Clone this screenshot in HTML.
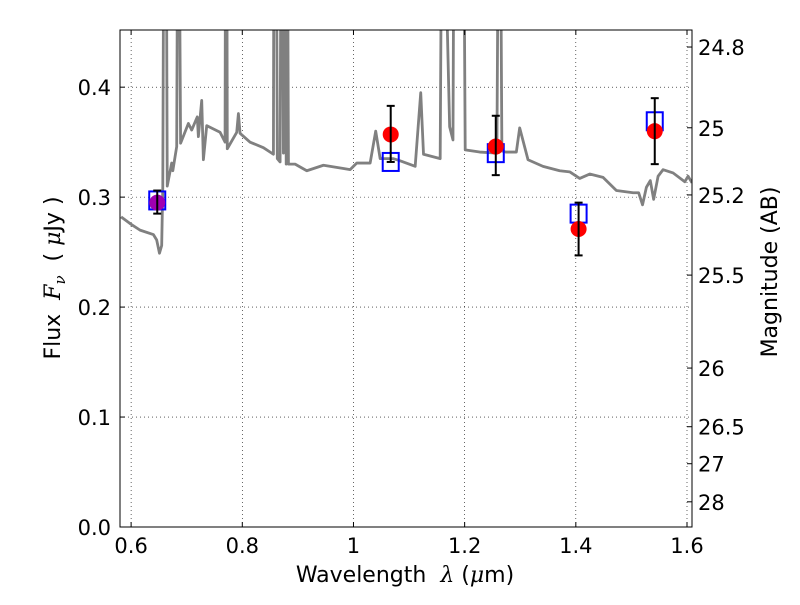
<!DOCTYPE html>
<html><head><meta charset="utf-8"><style>
body{margin:0;background:#fff}
svg text{font-family:"DejaVu Sans","Liberation Sans",sans-serif;fill:#000;white-space:pre}
</style></head><body>
<svg id="chart" width="800" height="600" xmlns="http://www.w3.org/2000/svg">
<defs><clipPath id="clip"><rect x="120" y="30" width="572" height="497"/></clipPath></defs>
<rect x="0" y="0" width="800" height="600" fill="#fff"/>
<g id="grid"></g>
<g id="spec" clip-path="url(#clip)"></g>
<g id="pts"></g>
<rect x="120" y="30" width="572" height="497" fill="none" stroke="#000" stroke-width="1"/>
<g id="axes"></g>
<text x="405" y="582" font-size="22" text-anchor="middle">Wavelength  <tspan font-family="DejaVu Serif" font-style="italic">λ</tspan> (<tspan font-family="DejaVu Serif" font-style="italic">μ</tspan>m)</text>
<text transform="translate(60,278) rotate(-90)" font-size="22" text-anchor="middle">Flux  <tspan font-family="DejaVu Serif" font-style="italic">F<tspan font-size="15" dy="5">ν</tspan></tspan><tspan dy="-5">  ( </tspan><tspan font-family="DejaVu Serif" font-style="italic">μ</tspan>Jy )</text>
<text transform="translate(777,272) rotate(-90)" font-size="22" text-anchor="middle">Magnitude (AB)</text>
</svg>
<script>
const specLam=[0.582,0.598,0.616,0.640,0.646,0.651,0.655,0.657,0.659,0.663,0.665,0.673,0.675,0.682,0.684,0.686,0.689,0.703,0.709,0.719,0.721,0.727,0.730,0.736,0.760,0.769,0.770,0.772,0.773,0.790,0.793,0.796,0.814,0.838,0.856,0.857,0.859,0.861,0.863,0.868,0.870,0.872,0.874,0.876,0.877,0.879,0.881,0.883,0.895,0.916,0.946,0.982,0.994,1.006,1.030,1.040,1.048,1.072,1.084,1.111,1.121,1.126,1.156,1.159,1.162,1.173,1.179,1.181,1.184,1.198,1.201,1.227,1.258,1.261,1.264,1.267,1.274,1.293,1.299,1.314,1.341,1.371,1.389,1.407,1.425,1.449,1.473,1.503,1.513,1.520,1.527,1.534,1.540,1.548,1.557,1.575,1.596,1.602,1.609];
const specFlux=[0.282,0.276,0.270,0.266,0.261,0.249,0.256,0.310,0.600,0.600,0.310,0.331,0.324,0.346,0.600,0.600,0.349,0.367,0.361,0.373,0.355,0.388,0.334,0.365,0.359,0.350,0.600,0.600,0.344,0.359,0.376,0.358,0.350,0.345,0.339,0.600,0.600,0.600,0.335,0.332,0.600,0.600,0.340,0.600,0.600,0.330,0.600,0.330,0.330,0.324,0.329,0.326,0.325,0.331,0.331,0.360,0.335,0.335,0.333,0.328,0.395,0.339,0.335,0.600,0.600,0.364,0.352,0.600,0.600,0.600,0.343,0.341,0.340,0.600,0.600,0.342,0.341,0.341,0.363,0.334,0.328,0.324,0.323,0.317,0.321,0.318,0.306,0.304,0.304,0.293,0.309,0.315,0.298,0.319,0.325,0.322,0.314,0.319,0.313];
const ptLam=[0.647,1.067,1.256,1.405,1.542];
const obsFlux=[0.295,0.357,0.346,0.271,0.360];
const errHi=[0.306,0.383,0.374,0.295,0.390];
const errLo=[0.285,0.332,0.320,0.247,0.330];
const modelFlux=[0.297,0.332,0.340,0.285,0.369];
const xTicks=[0.6,0.8,1.0,1.2,1.4,1.6];
const xTickLabels=["0.6","0.8","1","1.2","1.4","1.6"];
const yTicks=[0,0.1,0.2,0.3,0.4];
const yTickLabels=["0.0","0.1","0.2","0.3","0.4"];
const magTicks=[24.8,25,25.2,25.5,26,26.5,27,28];
const magLabels=["24.8","25","25.2","25.5","26","26.5","27","28"];

const X0=120,X1=692,Y0=527,Y1=30,XMIN=0.58,XMAX=1.609,YMIN=0,YMAX=0.452;
const xs=v=>X0+(v-XMIN)/(XMAX-XMIN)*(X1-X0);
const ys=v=>Y0-(v-YMIN)/(YMAX-YMIN)*(Y0-Y1);
const NS="http://www.w3.org/2000/svg";
function mk(p,t,a){const e=document.createElementNS(NS,t);for(const k in a)e.setAttribute(k,a[k]);p.appendChild(e);return e;}
const grid=document.getElementById('grid'),axes=document.getElementById('axes');
xTicks.forEach((t,i)=>{const x=xs(t);
 const g=mk(grid,'line',{x1:x,x2:x,y1:Y1,y2:Y0,stroke:'#000','stroke-width':0.6,'stroke-dasharray':'1,3'});
 
 mk(axes,'line',{x1:x,x2:x,y1:Y0,y2:Y0-5,stroke:'#000'});mk(axes,'line',{x1:x,x2:x,y1:Y1,y2:Y1+5,stroke:'#000'});
 const l=mk(axes,'text',{x:x,y:Y0+26,'font-size':21,'text-anchor':'middle'});l.textContent=xTickLabels[i];
 });
yTicks.forEach((t,i)=>{const y=ys(t);
 const g=mk(grid,'line',{x1:X0,x2:X1,y1:y,y2:y,stroke:'#000','stroke-width':0.6,'stroke-dasharray':'1,3'});
 
 mk(axes,'line',{x1:X0,x2:X0+5,y1:y,y2:y,stroke:'#000'});
 const l=mk(axes,'text',{x:X0-9,y:y+8,'font-size':21,'text-anchor':'end'});l.textContent=yTickLabels[i];
 });
magTicks.forEach((m,i)=>{const f=Math.pow(10,-(m-23.9)/2.5);const y=ys(f);
 mk(axes,'line',{x1:X1,x2:X1-5,y1:y,y2:y,stroke:'#000'});
 const l=mk(axes,'text',{x:X1+6,y:y+8,'font-size':21});l.textContent=magLabels[i];
 });
const spec=document.getElementById('spec');
const pl=mk(spec,'polyline',{points:specLam.map((l,i)=>xs(l)+','+ys(specFlux[i])).join(' '),fill:'none',stroke:'#808080','stroke-width':2.8,'stroke-linejoin':'round'});

const pts=document.getElementById('pts');
ptLam.forEach((l,i)=>{const x=xs(l);
 const sq=mk(pts,'rect',{x:x-8,y:ys(modelFlux[i])-9,width:16,height:18,fill:'none',stroke:'#0000ff','stroke-width':2});
 
 const c=mk(pts,'circle',{cx:x,cy:ys(obsFlux[i]),r:8,fill:i===0?'#a000b0':'#ff0000'});
 
 const e=mk(pts,'g',{stroke:'#000','stroke-width':2});
 
 mk(e,'line',{x1:x,x2:x,y1:ys(errHi[i]),y2:ys(errLo[i])});
 mk(e,'line',{x1:x-4,x2:x+4,y1:ys(errHi[i]),y2:ys(errHi[i])});
 mk(e,'line',{x1:x-4,x2:x+4,y1:ys(errLo[i]),y2:ys(errLo[i])});});
</script>
</body></html>
